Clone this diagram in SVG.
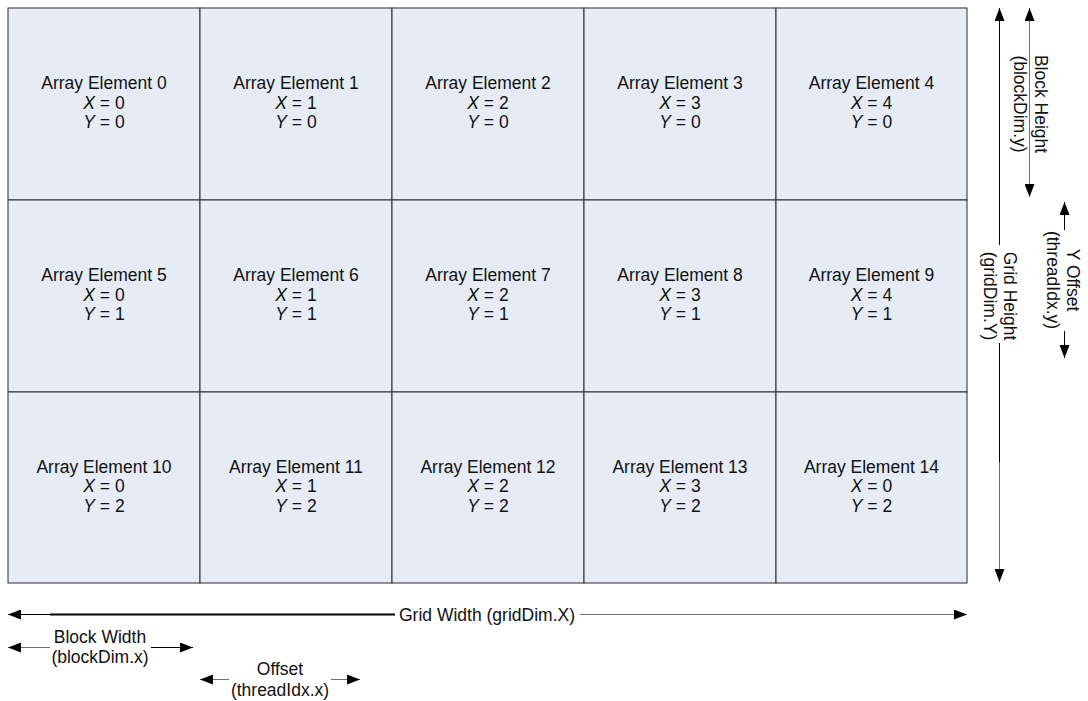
<svg xmlns="http://www.w3.org/2000/svg" width="1088" height="701" viewBox="0 0 1088 701">
<style>
.cell{fill:#e6ecf6;stroke:#2a2a2a;stroke-width:1}
text{font-family:"Liberation Sans",Arial,sans-serif;font-size:17.5px;fill:#111;text-anchor:middle}
.i{font-style:italic}
.k{stroke:#000;stroke-width:1;fill:none}
.g{stroke:#707070;stroke-width:1;fill:none}
.t{stroke:#000;stroke-width:2.2;fill:none}
</style>
<defs>
<marker id="ah" viewBox="0 0 13 10" refX="13" refY="5" markerWidth="13" markerHeight="10" markerUnits="userSpaceOnUse" orient="auto-start-reverse">
<path d="M0,0 L13,5 L0,10 Z" fill="#000"/>
</marker>
</defs>
<rect x="0" y="0" width="1088" height="701" fill="#fff"/>
<g id="nodes">
<g id="e0"><rect class="cell" x="8" y="8" width="192" height="192"/><text x="104" y="89">Array Element 0</text><text x="104" y="108.5"><tspan class="i">X</tspan> = 0</text><text x="104" y="128"><tspan class="i">Y</tspan> = 0</text></g>
<g id="e1"><rect class="cell" x="200" y="8" width="192" height="192"/><text x="296" y="89">Array Element 1</text><text x="296" y="108.5"><tspan class="i">X</tspan> = 1</text><text x="296" y="128"><tspan class="i">Y</tspan> = 0</text></g>
<g id="e2"><rect class="cell" x="392" y="8" width="192" height="192"/><text x="488" y="89">Array Element 2</text><text x="488" y="108.5"><tspan class="i">X</tspan> = 2</text><text x="488" y="128"><tspan class="i">Y</tspan> = 0</text></g>
<g id="e3"><rect class="cell" x="584" y="8" width="192" height="192"/><text x="680" y="89">Array Element 3</text><text x="680" y="108.5"><tspan class="i">X</tspan> = 3</text><text x="680" y="128"><tspan class="i">Y</tspan> = 0</text></g>
<g id="e4"><rect class="cell" x="776" y="8" width="191" height="192"/><text x="871.5" y="89">Array Element 4</text><text x="871.5" y="108.5"><tspan class="i">X</tspan> = 4</text><text x="871.5" y="128"><tspan class="i">Y</tspan> = 0</text></g>
<g id="e5"><rect class="cell" x="8" y="200" width="192" height="192"/><text x="104" y="281">Array Element 5</text><text x="104" y="300.5"><tspan class="i">X</tspan> = 0</text><text x="104" y="320"><tspan class="i">Y</tspan> = 1</text></g>
<g id="e6"><rect class="cell" x="200" y="200" width="192" height="192"/><text x="296" y="281">Array Element 6</text><text x="296" y="300.5"><tspan class="i">X</tspan> = 1</text><text x="296" y="320"><tspan class="i">Y</tspan> = 1</text></g>
<g id="e7"><rect class="cell" x="392" y="200" width="192" height="192"/><text x="488" y="281">Array Element 7</text><text x="488" y="300.5"><tspan class="i">X</tspan> = 2</text><text x="488" y="320"><tspan class="i">Y</tspan> = 1</text></g>
<g id="e8"><rect class="cell" x="584" y="200" width="192" height="192"/><text x="680" y="281">Array Element 8</text><text x="680" y="300.5"><tspan class="i">X</tspan> = 3</text><text x="680" y="320"><tspan class="i">Y</tspan> = 1</text></g>
<g id="e9"><rect class="cell" x="776" y="200" width="191" height="192"/><text x="871.5" y="281">Array Element 9</text><text x="871.5" y="300.5"><tspan class="i">X</tspan> = 4</text><text x="871.5" y="320"><tspan class="i">Y</tspan> = 1</text></g>
<g id="e10"><rect class="cell" x="8" y="392" width="192" height="191"/><text x="104" y="472.5">Array Element 10</text><text x="104" y="492"><tspan class="i">X</tspan> = 0</text><text x="104" y="511.5"><tspan class="i">Y</tspan> = 2</text></g>
<g id="e11"><rect class="cell" x="200" y="392" width="192" height="191"/><text x="296" y="472.5">Array Element 11</text><text x="296" y="492"><tspan class="i">X</tspan> = 1</text><text x="296" y="511.5"><tspan class="i">Y</tspan> = 2</text></g>
<g id="e12"><rect class="cell" x="392" y="392" width="192" height="191"/><text x="488" y="472.5">Array Element 12</text><text x="488" y="492"><tspan class="i">X</tspan> = 2</text><text x="488" y="511.5"><tspan class="i">Y</tspan> = 2</text></g>
<g id="e13"><rect class="cell" x="584" y="392" width="192" height="191"/><text x="680" y="472.5">Array Element 13</text><text x="680" y="492"><tspan class="i">X</tspan> = 3</text><text x="680" y="511.5"><tspan class="i">Y</tspan> = 2</text></g>
<g id="e14"><rect class="cell" x="776" y="392" width="191" height="191"/><text x="871.5" y="472.5">Array Element 14</text><text x="871.5" y="492"><tspan class="i">X</tspan> = 0</text><text x="871.5" y="511.5"><tspan class="i">Y</tspan> = 2</text></g>
</g>
<g id="connectors">
<line class="k" x1="999.5" y1="245" x2="999.5" y2="8" marker-end="url(#ah)"/>
<line class="k" x1="999.5" y1="343" x2="999.5" y2="462"/>
<line class="g" x1="999.5" y1="462" x2="999.5" y2="582" marker-end="url(#ah)"/>
<line class="g" x1="1029.5" y1="100" x2="1029.5" y2="8" marker-end="url(#ah)"/>
<line class="g" x1="1029.5" y1="100" x2="1029.5" y2="197" marker-end="url(#ah)"/>
<line class="k" x1="1064.5" y1="230" x2="1064.5" y2="202" marker-end="url(#ah)"/>
<line class="k" x1="1064.5" y1="331" x2="1064.5" y2="358" marker-end="url(#ah)"/>
<line class="k" x1="50" y1="614.5" x2="8" y2="614.5" marker-end="url(#ah)"/>
<line class="t" x1="50" y1="614.5" x2="395" y2="614.5"/>
<line class="g" x1="580" y1="614.5" x2="967" y2="614.5" marker-end="url(#ah)"/>
<line class="g" x1="50" y1="647.5" x2="8" y2="647.5" marker-end="url(#ah)"/>
<line class="k" x1="151" y1="647.5" x2="193" y2="647.5" marker-end="url(#ah)"/>
<line class="g" x1="229" y1="679.5" x2="200" y2="679.5" marker-end="url(#ah)"/>
<line class="g" x1="331" y1="679.5" x2="360" y2="679.5" marker-end="url(#ah)"/>
</g>
<g id="labels">
<text transform="translate(999,296) rotate(90)" y="-5">Grid Height</text>
<text transform="translate(999,296) rotate(90)" y="15">(gridDim.Y)</text>
<text transform="translate(1029,104) rotate(90)" y="-6">Block Height</text>
<text transform="translate(1029,104) rotate(90)" y="15">(blockDim.y)</text>
<text transform="translate(1064,280) rotate(90)" y="-3">Y Offset</text>
<text transform="translate(1064,280) rotate(90)" y="17">(threadIdx.y)</text>
<text x="487" y="620.5">Grid Width (gridDim.X)</text>
<text x="100" y="643">Block Width</text>
<text x="100" y="663">(blockDim.x)</text>
<text x="280" y="674.5">Offset</text>
<text x="280" y="695.5">(threadIdx.x)</text>
</g>
</svg>
